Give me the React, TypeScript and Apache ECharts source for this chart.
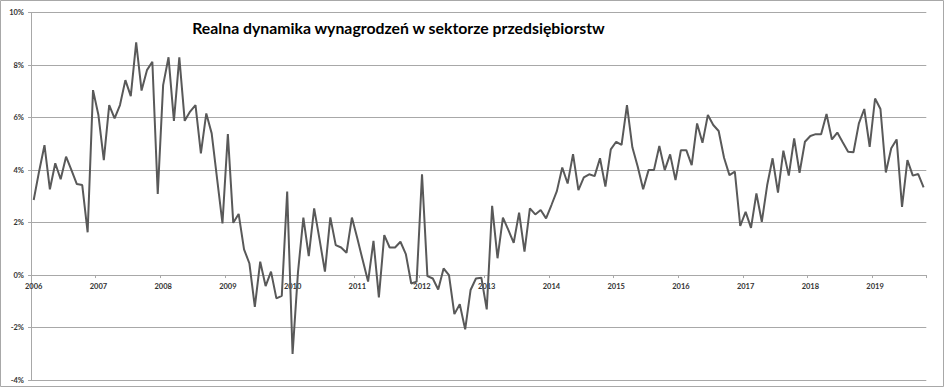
import React, { useEffect, useRef } from "react";
import * as echarts from "echarts";

const title = "Realna dynamika wynagrodzeń w sektorze przedsiębiorstw";
const years = [2006, 2007, 2008, 2009, 2010, 2011, 2012, 2013, 2014, 2015, 2016, 2017, 2018, 2019];
const monthsInLastYear = 10;

const v2006 = [2.86, 3.95, 4.95, 3.27, 4.26, 3.65, 4.51, 4.0, 3.47, 3.43, 1.63, 7.05];
const v2007 = [6.1, 4.38, 6.48, 5.97, 6.48, 7.43, 6.82, 8.87, 7.03, 7.81, 8.13, 3.09];
const v2008 = [7.24, 8.3, 5.88, 8.3, 5.88, 6.23, 6.48, 4.64, 6.16, 5.4, 3.68, 1.97];
const v2009 = [5.37, 1.99, 2.33, 0.98, 0.44, -1.21, 0.51, -0.42, 0.13, -0.89, -0.79, 3.18];
const v2010 = [-3.01, 0.1, 2.19, 0.72, 2.54, 1.36, 0.13, 2.2, 1.14, 1.05, 0.85, 2.19];
const v2011 = [1.4, 0.57, -0.25, 1.3, -0.85, 1.52, 1.05, 1.05, 1.27, 0.8, -0.32, -0.25];
const v2012 = [3.84, -0.04, -0.13, -0.55, 0.25, 0.0, -1.49, -1.11, -2.07, -0.57, -0.13, -0.1];
const v2013 = [-1.31, 2.64, 0.64, 2.19, 1.72, 1.23, 2.38, 0.89, 2.54, 2.31, 2.48, 2.16];
const v2014 = [2.67, 3.2, 4.1, 3.49, 4.61, 3.24, 3.72, 3.84, 3.77, 4.45, 3.37, 4.79];
const v2015 = [5.08, 4.96, 6.48, 4.87, 4.13, 3.27, 4.0, 4.0, 4.92, 4.0, 4.6, 3.62];
const v2016 = [4.76, 4.76, 4.19, 5.78, 5.04, 6.1, 5.72, 5.49, 4.47, 3.81, 3.94, 1.87];
const v2017 = [2.41, 1.8, 3.11, 2.03, 3.43, 4.45, 3.14, 4.74, 3.79, 5.21, 3.9, 5.08];
const v2018 = [5.3, 5.37, 5.37, 6.14, 5.17, 5.43, 5.06, 4.7, 4.68, 5.78, 6.33, 4.89];
const v2019 = [6.73, 6.33, 3.91, 4.83, 5.17, 2.6, 4.38, 3.79, 3.85, 3.34];

const values = [
  ...v2006, ...v2007, ...v2008, ...v2009, ...v2010, ...v2011, ...v2012,
  ...v2013, ...v2014, ...v2015, ...v2016, ...v2017, ...v2018, ...v2019,
];

const categories: string[] = [];
years.forEach((y, yi) => {
  const n = yi === years.length - 1 ? monthsInLastYear : 12;
  for (let m = 1; m <= n; m++) categories.push(`${y}-${String(m).padStart(2, "0")}`);
});

const yMin = -4;
const yMax = 10;

export default function App() {
  const ref = useRef<HTMLDivElement>(null);
  useEffect(() => {
    document.body.style.margin = "0";
    const chart = echarts.init(ref.current!, null, { renderer: "svg" });
    const gridColor = "#a8a8a8";
    const labelFont = { fontFamily: "Lato", fontWeight: "bold" as const, fontSize: 7.5, color: "#333333" };
    const gridTop = 12.7;
    const gridBottom = 8;
    const plotH = 388 - gridTop - gridBottom;
    // move the category axis from the bottom edge up to the 0% line
    const zeroOffset = -(plotH * (0 - yMin)) / (yMax - yMin);
    chart.setOption({
      animation: false,
      backgroundColor: "#ffffff",
      grid: { left: 31, right: 18.7, top: gridTop, bottom: gridBottom, containLabel: false, outerBoundsMode: "none" },
      xAxis: {
        type: "category",
        data: categories,
        boundaryGap: true,
        position: "bottom",
        offset: zeroOffset,
        axisLine: { show: true, onZero: false, lineStyle: { color: gridColor, width: 1 } },
        axisTick: { show: true, interval: 11, length: 3, inside: false, lineStyle: { color: gridColor } },
        axisLabel: {
          interval: 11,
          margin: 7,
          formatter: (v: string) => v.slice(0, 4),
          ...labelFont,
        },
        splitLine: { show: false },
      },
      yAxis: {
        type: "value",
        min: yMin,
        max: yMax,
        interval: 2,
        axisLine: { show: true, lineStyle: { color: gridColor, width: 1 } },
        axisTick: { show: true, length: 3, lineStyle: { color: gridColor } },
        axisLabel: { formatter: "{value}%", margin: 7, ...labelFont },
        splitLine: { show: true, lineStyle: { color: gridColor, width: 1 } },
      },
      series: [
        {
          type: "line",
          data: values,
          showSymbol: false,
          symbol: "none",
          lineStyle: { color: "#595959", width: 2 },
          itemStyle: { color: "#595959" },
          z: 3,
        },
      ],
      graphic: [
        {
          type: "text",
          x: 398.5,
          y: 27,
          style: {
            text: title,
            textAlign: "center",
            textVerticalAlign: "middle",
            fontFamily: "Lato",
            fontWeight: "bold",
            fontSize: 15.8,
            fill: "#000000",
          },
          silent: true,
          z: 100,
        },
        {
          type: "rect",
          shape: { x: 0.5, y: 0.5, width: 943, height: 386 },
          style: { fill: "none", stroke: "#a8a8a8", lineWidth: 1 },
          silent: true,
          z: 100,
        },
      ],
    });
    return () => chart.dispose();
  }, []);
  return <div ref={ref} style={{ width: 945, height: 388 }} />;
}
